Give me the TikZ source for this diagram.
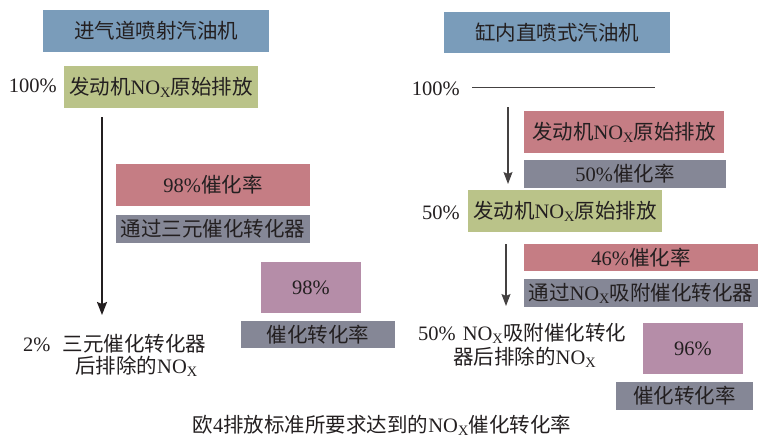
\documentclass[tikz,border=0pt]{standalone}
\usepackage{fontspec}
\setmainfont{Liberation Serif}
\newfontfamily\cjk{Noto Sans CJK SC}
\usetikzlibrary{arrows.meta}
\newcommand\zh[1]{{\cjk #1}}
\newcommand\nox{NO\textsubscript{X}}
\definecolor{cblue}{RGB}{122,156,186}
\definecolor{cgreen}{RGB}{186,195,137}
\definecolor{cred}{RGB}{197,125,132}
\definecolor{cgray}{RGB}{133,135,150}
\definecolor{cpurple}{RGB}{181,141,168}
\definecolor{txt}{RGB}{35,31,32}
\begin{document}
\begin{tikzpicture}[x=1pt,y=-1pt,
  every node/.style={font=\fontsize{20.5}{24}\selectfont, text=txt, inner sep=0pt},
  box/.style={rectangle, anchor=center},
  arrL/.style={line width=1.8pt, draw=txt, -{Stealth[length=13pt,width=10pt,inset=2pt]}},
  arrR/.style={line width=1.2pt, draw=txt!85, -{Stealth[length=12pt,width=9pt,inset=2pt]}}]
\useasboundingbox (0,0) rectangle (763,439);

% ---- left ----
\node[box, fill=cblue, minimum width=226pt, minimum height=42pt] (b1) at (156,31) {\zh{进气道喷射汽油机}};
\node[anchor=east] (p100L) at (57,86) {100\%};
\node[box, fill=cgreen, minimum width=194pt, minimum height=42pt] (g1) at (161,87) {\zh{发动机}\nox\zh{原始排放}};
\node[box, fill=cred, minimum width=194pt, minimum height=42pt] (r1) at (213,185) {98\%\zh{催化率}};
\node[box, fill=cgray, minimum width=194pt, minimum height=28pt] (k1) at (213,229) {\zh{通过三元催化转化器}};
\node[box, fill=cpurple, minimum width=100pt, minimum height=51pt] (pu1) at (311,287.5) {98\%};
\node[box, fill=cgray, minimum width=154pt, minimum height=27pt] (k2) at (318,334.5) {\zh{催化转化率}};
\node[anchor=west] (l1) at (23,344) {2\%\hspace{12pt}\zh{三元催化转化器}};
\node[anchor=west] (l2) at (75,366) {\zh{后排除的}\nox};
\coordinate (a1s) at (102,117);
\coordinate (a1e) at (102,315);
\draw[arrL] (a1s) -- (a1e);

% ---- right ----
\node[box, fill=cblue, minimum width=226pt, minimum height=41pt] (b2) at (557,32.5) {\zh{缸内直喷式汽油机}};
\node[anchor=east] (p100R) at (460,89) {100\%};
\coordinate (h1) at (472,87);
\coordinate (h2) at (655,87);
\draw[line width=1pt, draw=txt!85] (h1) -- (h2);
\node[box, fill=cred, minimum width=200pt, minimum height=42pt] (r2) at (624,132) {\zh{发动机}\nox\zh{原始排放}};
\node[box, fill=cgray, minimum width=202pt, minimum height=28pt] (k3) at (625,174) {50\%\zh{催化率}};
\node[anchor=east] (p50R) at (460,213) {50\%};
\node[box, fill=cgreen, minimum width=194pt, minimum height=42pt] (g2) at (565,211) {\zh{发动机}\nox\zh{原始排放}};
\node[box, fill=cred, minimum width=234pt, minimum height=27pt] (r3) at (641,257.5) {46\%\zh{催化率}};
\node[box, fill=cgray, minimum width=234pt, minimum height=28pt] (k4) at (641,293) {\zh{通过}\nox\zh{吸附催化转化器}};
\node[anchor=west] (l3) at (418,333) {50\%\hspace{7pt}\nox\zh{吸附催化转化}};
\node[anchor=west] (l4) at (453,357) {\zh{器后排除的}\nox};
\node[box, fill=cpurple, minimum width=100pt, minimum height=51pt] (pu2) at (693,348.5) {96\%};
\node[box, fill=cgray, minimum width=137pt, minimum height=28pt] (k5) at (684.5,396) {\zh{催化转化率}};
\coordinate (a2s) at (508,107);
\coordinate (a2e) at (508,184);
\draw[arrR] (a2s) -- (a2e);
\coordinate (a3s) at (506,244);
\coordinate (a3e) at (506,306);
\draw[arrR] (a3s) -- (a3e);

% ---- caption ----
\node (cap) at (382,425) {\zh{欧}4\zh{排放标准所要求达到的}\nox\zh{催化转化率}};
\end{tikzpicture}
\end{document}
